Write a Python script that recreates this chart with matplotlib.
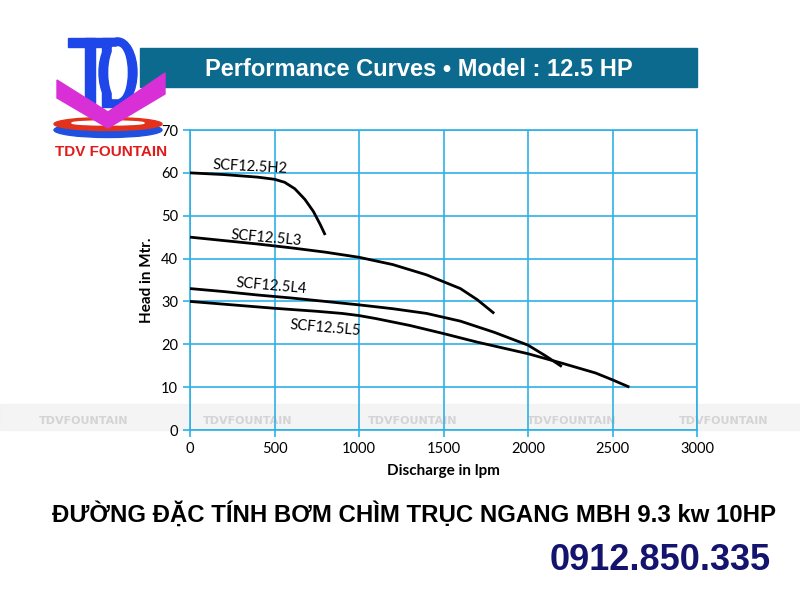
import numpy as np
import matplotlib
matplotlib.use("Agg")
import matplotlib.pyplot as plt
import matplotlib.patches as patches

# pump curves (discharge lpm, head m)
h2_q = [0, 200, 400, 500, 560, 620, 680, 730, 770, 800]
h2_h = [60, 59.6, 59.0, 58.5, 57.8, 56.3, 53.8, 51.0, 48.0, 45.5]
l3_q = [0, 200, 400, 600, 800, 1000, 1200, 1400, 1600, 1700, 1800]
l3_h = [45, 44.2, 43.4, 42.5, 41.5, 40.3, 38.6, 36.2, 33.0, 30.4, 27.2]
l4_q = [0, 200, 400, 600, 800, 1000, 1200, 1400, 1600, 1800, 2000, 2100, 2200]
l4_h = [33, 32.3, 31.5, 30.8, 30.0, 29.2, 28.3, 27.2, 25.4, 22.8, 19.8, 17.4, 14.8]
l5_q = [0, 250, 500, 750, 900, 1000, 1100, 1300, 1500, 1700, 1900, 2000, 2200, 2400, 2500, 2600]
l5_h = [30, 29.2, 28.4, 27.7, 27.2, 26.7, 26.0, 24.4, 22.5, 20.5, 18.7, 17.8, 15.6, 13.3, 11.7, 10.0]

curves = [("SCF12.5H2", h2_q, h2_h), ("SCF12.5L3", l3_q, l3_h),
          ("SCF12.5L4", l4_q, l4_h), ("SCF12.5L5", l5_q, l5_h)]
# label anchor (lpm, m) and rotation
label_pos = {"SCF12.5H2": (136, 61.9, -3), "SCF12.5L3": (245, 45.4, -5),
             "SCF12.5L4": (270, 34.2, -5), "SCF12.5L5": (590, 24.4, -5)}

x_ticks = [0, 500, 1000, 1500, 2000, 2500, 3000]
y_ticks = [0, 10, 20, 30, 40, 50, 60, 70]

title = "Performance Curves \u2022 Model : 12.5 HP"
footer = "ĐƯỜNG ĐẶC TÍNH BƠM CHÌM TRỤC NGANG MBH 9.3 kw 10HP"
phone = "0912.850.335"

grid_blue = "#2fb0e6"
body_font = ["Lato", "DejaVu Sans"]
arial = ["Liberation Sans", "DejaVu Sans"]

fig = plt.figure(figsize=(8, 6), dpi=100)
fig.patch.set_facecolor("white")

# overlay in pixel coords for decorations
deco = fig.add_axes([0, 0, 1, 1], zorder=0)
deco.set_xlim(0, 800)
deco.set_ylim(600, 0)
deco.axis("off")

# chart axes
ax = fig.add_axes([190 / 800, 1 - 430 / 600, 507 / 800, 300 / 600], zorder=2)
ax.patch.set_alpha(0)
ax.set_xlim(0, 3000)
ax.set_ylim(0, 70)
ax.set_xticks(x_ticks)
ax.set_yticks(y_ticks)
ax.grid(True, color=grid_blue, lw=1.2)
for s in ax.spines.values():
    s.set_color(grid_blue)
    s.set_linewidth(1.2)
ax.tick_params(colors=grid_blue, length=5, width=1.2, labelcolor="black", labelsize=10.5)
for lab in ax.get_xticklabels() + ax.get_yticklabels():
    lab.set_family(body_font)
ax.set_axisbelow(True)

for name, q, h in curves:
    ax.plot(q, h, color="black", lw=2.0, solid_capstyle="butt", zorder=3)
    lx, ly, rot = label_pos[name]
    ax.text(lx, ly, name, family=body_font, fontsize=10.5, rotation=rot,
            rotation_mode="anchor", ha="left", va="center", zorder=4)

ax.set_xlabel("Discharge in lpm", family=body_font, fontweight="bold", fontsize=11, labelpad=6)
ax.set_ylabel("Head in Mtr.", family=body_font, fontweight="bold", fontsize=11, labelpad=5)

# header banner
deco.add_patch(patches.Rectangle((140, 48), 557, 39, color="#0d6a8f", zorder=1))
deco.text(419, 69, title, color="white", fontsize=17, fontweight="bold",
          family=arial, ha="center", va="center", zorder=2)

# logo
blue = "#1e46e8"
deco.add_patch(patches.Rectangle((68, 38), 50, 9, color=blue, zorder=3))
deco.add_patch(patches.Rectangle((85, 38), 10, 69, color=blue, zorder=3))
deco.add_patch(patches.Rectangle((102, 38), 16, 69, color=blue, zorder=3))
deco.add_patch(patches.Ellipse((118, 72.5), 38, 69, color=blue, zorder=3))
deco.add_patch(patches.Rectangle((112, 47), 6, 51, color="white", zorder=4))
deco.add_patch(patches.Ellipse((118, 72.5), 18, 51, color="white", zorder=4))
deco.add_patch(patches.Ellipse((108, 130), 108, 15, color="#2050e0", zorder=5))
deco.add_patch(patches.Ellipse((108, 124), 108, 13, color="#e3321c", zorder=6))
deco.add_patch(patches.Ellipse((108, 123), 72, 4, color="white", zorder=7))
chevron = [(57, 80), (108, 112), (165, 73), (165, 94), (108, 128), (57, 98)]
deco.add_patch(patches.Polygon(chevron, closed=True, color="#d92fd6", zorder=8))
deco.text(111, 152, "TDV FOUNTAIN", color="#e01b1b", fontsize=11, fontweight="bold",
          family=arial, ha="center", va="center", zorder=8)

# watermark band
deco.add_patch(patches.Rectangle((0, 404), 800, 26, color="#f3f3f3", alpha=0.85, zorder=5))
for cx in [84, 248, 413, 572, 724]:
    deco.text(cx, 421, "TDVFOUNTAIN", color="#d4d4d4", fontsize=8, fontweight="bold",
              family=["DejaVu Sans"], ha="center", va="center", zorder=6)

# footer text
deco.text(414, 514, footer, color="black", fontsize=17.3, fontweight="bold",
          family=arial, ha="center", va="center", zorder=9)
deco.text(660, 561, phone, color="#14146e", fontsize=26, fontweight="bold",
          family=arial, ha="center", va="center", zorder=9)

fig.savefig("out.png", dpi=100)
